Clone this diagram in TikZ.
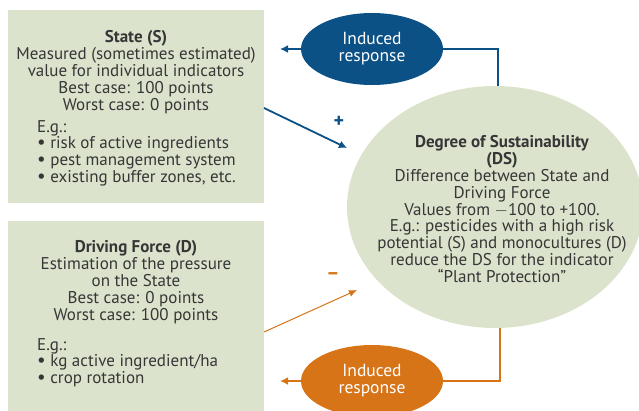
\documentclass[tikz,border=0pt]{standalone}
\usepackage{fontspec}
\setmainfont{PT Sans}
\usetikzlibrary{arrows.meta,shapes.geometric}
\definecolor{sage}{HTML}{DCE3CD}
\definecolor{dblue}{HTML}{0B5186}
\definecolor{orng}{HTML}{D77417}
\definecolor{txt}{HTML}{363636}
\tikzset{
  box/.style={fill=sage, draw=none, rectangle, anchor=north west, inner sep=0pt},
  body/.style={text=txt, inner sep=0pt, font=\fontsize{17}{16.8}\selectfont},
  resp/.style={ellipse, draw=none, minimum width=142pt, minimum height=72pt, text=white, align=center, inner sep=0pt, font=\fontsize{17.5}{17}\selectfont},
  bluearr/.style={draw=dblue, line width=2pt, -{Latex[length=8pt,width=8pt]}},
  orarr/.style={draw=orng, line width=2pt, -{Latex[length=8pt,width=8pt]}},
  blueline/.style={draw=dblue, line width=2pt},
  orline/.style={draw=orng, line width=2pt},
}
\newcommand{\bul}{{\fontsize{19}{16}\selectfont\textbullet}\ }
\begin{document}
\begin{tikzpicture}[x=1pt,y=-1pt]
\useasboundingbox (0,0) rectangle (639,410);
% boxes
\node[box, minimum width=256pt, minimum height=193pt] (state) at (8,10) {};
\node[box, minimum width=256pt, minimum height=195pt] (drive) at (8,221) {};
% big ellipse
\node[ellipse, fill=sage, minimum width=296pt, minimum height=242pt, inner sep=0pt] (ds) at (495,207) {};
% response ellipses
\node[resp, fill=dblue] (rtop) at (372,49) {Induced\\response};
\node[resp, fill=orng] (rbot) at (372,381) {Induced\\response};
% state text
\node[body, align=center, anchor=north] (statehead) at (136,30.5) {\textbf{State (S)}\\Measured (sometimes estimated)\\value for individual indicators\\Best case: 100 points\\Worst case: 0 points};
\node[body, align=left, anchor=north west] (statelist) at (37,120) {E.g.:\\\bul risk of active ingredients\\\bul pest management system\\\bul existing buffer zones, etc.};
% driving text
\node[body, align=center, anchor=north] (drivehead) at (136,240.5) {\textbf{Driving Force (D)}\\Estimation of the pressure\\on the State\\Best case: 0 points\\Worst case: 100 points};
\node[body, align=left, anchor=north west] (drivelist) at (37,338) {E.g.:\\\bul kg active ingredient/ha\\\bul crop rotation};
% ds text
\node[body, align=center, anchor=north] (dstext) at (502,135.5) {\textbf{Degree of Sustainability}\\\textbf{(DS)}\\Difference between State and\\Driving Force\\Values from $-$100 to +100.\\E.g.: pesticides with a high risk\\potential (S) and monocultures (D)\\reduce the DS for the indicator\\``Plant Protection''};
% connectors
\coordinate (tcorner) at (498,49);
\coordinate (bcorner) at (500,381);
\coordinate (topin) at (280,49);
\coordinate (botin) at (280,381);
\draw[blueline] (rtop.east) -- (tcorner) -- (tcorner |- ds.north);
\draw[bluearr] (rtop.west) -- (topin);
\draw[orline] (rbot.east) -- (bcorner) -- (bcorner |- ds.south);
\draw[orarr] (rbot.west) -- (botin);
\coordinate (sout) at (264,108);
\coordinate (sin) at (347,148);
\coordinate (dout) at (264,332);
\coordinate (din) at (357,290);
\draw[draw=dblue, line width=1.8pt, -{Latex[length=8pt,width=8pt]}] (sout) -- (sin);
\draw[draw=orng, line width=1pt, -{Latex[length=8pt,width=7pt]}] (dout) -- (din);
\node[text=dblue, font=\bfseries\fontsize{20}{20}\selectfont, inner sep=0pt] (plus) at (339,122) {+};
\node[text=orng, font=\bfseries\fontsize{20}{20}\selectfont, inner sep=0pt] (minus) at (333,276) {–};
\end{tikzpicture}
\end{document}
